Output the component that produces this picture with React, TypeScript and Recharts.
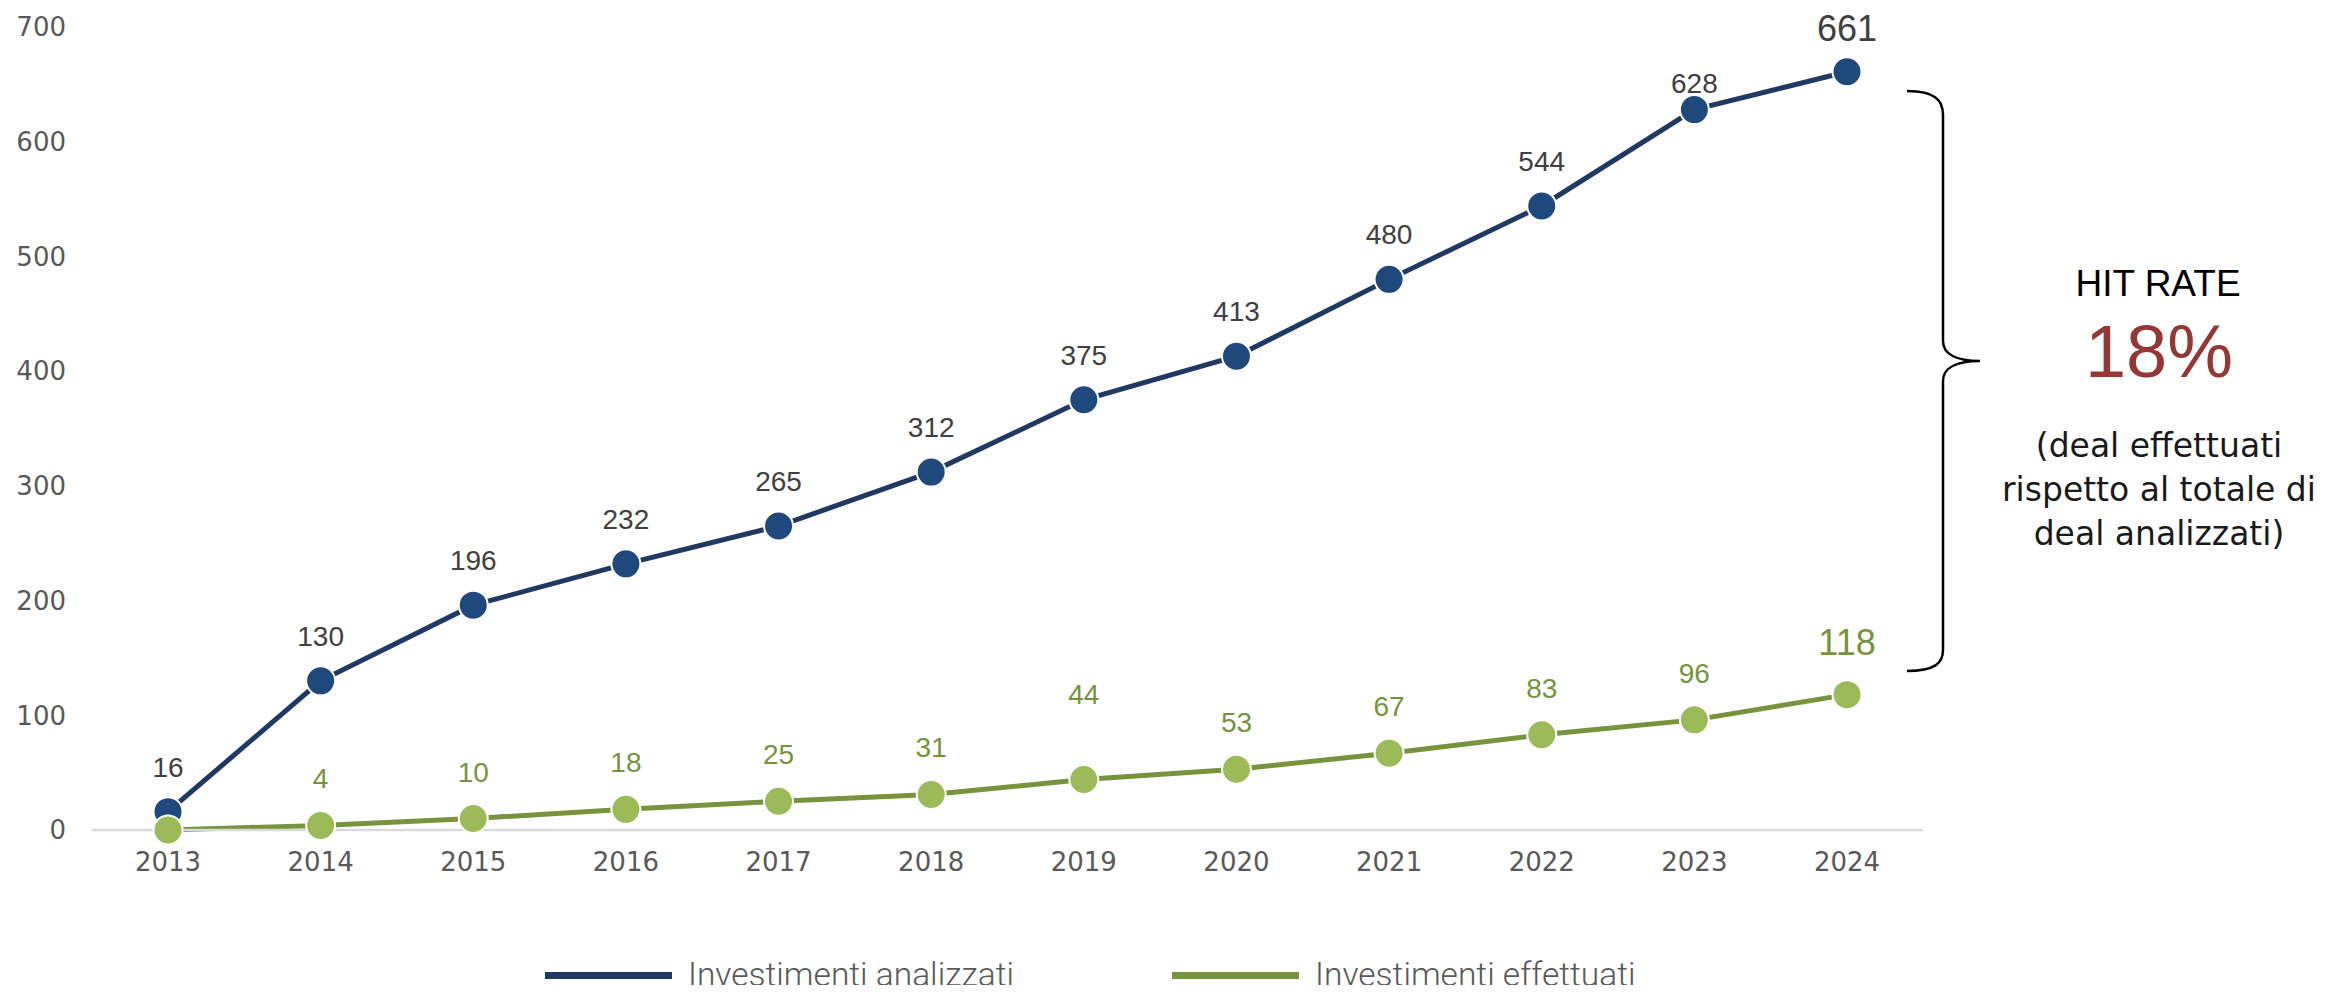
import React from "react";
import { LineChart, Line, XAxis, YAxis, Legend, LabelList } from "recharts";

const years = ["2013", "2014", "2015", "2016", "2017", "2018", "2019", "2020", "2021", "2022", "2023", "2024"];
const analizzati = [16, 130, 196, 232, 265, 312, 375, 413, 480, 544, 628, 661];
const effettuati = [0, 4, 10, 18, 25, 31, 44, 53, 67, 83, 96, 118];
const yTicks = [0, 100, 200, 300, 400, 500, 600, 700];

const data = years.map((y, i) => ({ year: y, analizzati: analizzati[i], effettuati: effettuati[i] }));

const W = 2310;
const H = 977;
const LAST = years.length - 1;

// label styling (distance of text baseline above the dot)
const darkLabelGap: Record<number, number> = { 10: 17, 11: 31 };
const greenLabelGap: Record<number, number> = { 6: 76, 11: 40 };

const makeLabel =
  (color: string, gapMap: Record<number, number>, defGap: number, size: number, lastSize: number) =>
  (props: any) => {
    const { x, y, value, index } = props;
    if (value === 0 || value == null) return null;
    const gap = gapMap[index] ?? defGap;
    return (
      <text
        x={x}
        y={y - gap}
        textAnchor="middle"
        fill={color}
        fontSize={index === LAST ? lastSize : size}
        fontFamily="'Liberation Sans', Arial, sans-serif"
      >
        {value}
      </text>
    );
  };

const renderLegend = (props: any) => {
  const { payload } = props;
  return (
    <div style={{ display: "flex", alignItems: "center" }}>
      {(payload || []).map((e: any, i: number) => (
        <div key={i} style={{ display: "flex", alignItems: "center", marginRight: i === 0 ? 158 : 0 }}>
          <span style={{ display: "inline-block", width: 127, height: 7, background: e.color, marginRight: 16 }} />
          <span
            style={{
              fontSize: 33.5,
              fontFamily: "Roboto, 'Liberation Sans', sans-serif",
              fontWeight: 300,
              color: "#595959",
              lineHeight: "38px",
            }}
          >
            {e.value}
          </span>
        </div>
      ))}
    </div>
  );
};

const tickStyle = { fill: "#595959", fontSize: 26, fontFamily: "'DejaVu Sans', sans-serif" };

export default function App() {
  return (
    <div style={{ position: "relative", width: W, height: H }}>
      <style>{"html,body{overflow:hidden}"}</style>
      <LineChart width={W} height={H} data={data} margin={{ top: 19, right: 395, bottom: 0, left: 0 }}>
        <XAxis
          dataKey="year"
          padding={{ left: 76, right: 76 }}
          axisLine={{ stroke: "#D9D9D9", strokeWidth: 2.5 }}
          tickLine={false}
          tickSize={0}
          tickMargin={23}
          tick={tickStyle}
          interval={0}
          height={155}
        />
        <YAxis
          domain={[0, 700]}
          ticks={yTicks}
          width={84}
          axisLine={false}
          tickLine={false}
          tickSize={0}
          tickMargin={26}
          tick={tickStyle}
          interval={0}
        />
        <Legend
          verticalAlign="middle"
          layout="horizontal"
          content={renderLegend}
          wrapperStyle={{ top: 948, left: 537, width: 1300, height: 38 }}
        />
        <Line
          type="linear"
          dataKey="analizzati"
          name="Investimenti analizzati"
          stroke="#1F3864"
          strokeWidth={5}
          dot={{ r: 14.5, fill: "#1F497D", stroke: "#FFFFFF", strokeWidth: 2 }}
          activeDot={false}
          isAnimationActive={false}
        >
          <LabelList dataKey="analizzati" content={makeLabel("#404040", darkLabelGap, 35, 28, 36)} />
        </Line>
        <Line
          type="linear"
          dataKey="effettuati"
          name="Investimenti effettuati"
          stroke="#77933C"
          strokeWidth={5}
          dot={{ r: 14.5, fill: "#9BBB59", stroke: "#FFFFFF", strokeWidth: 2 }}
          activeDot={false}
          isAnimationActive={false}
        >
          <LabelList dataKey="effettuati" content={makeLabel("#77933C", greenLabelGap, 37, 28, 36)} />
        </Line>
      </LineChart>
      <svg
        width={W}
        height={H}
        style={{ position: "absolute", top: 0, left: 0, pointerEvents: "none" }}
      >
        <path
          d="M 1899 83 C 1927 83, 1935 92, 1935 107 L 1935 333 C 1935 347, 1950 353, 1972 353 C 1950 353, 1935 359, 1935 373 L 1935 642 C 1935 655, 1927 663, 1899 663"
          fill="none"
          stroke="#000"
          strokeWidth={2.5}
        />
        <text x={2150} y={288} textAnchor="middle" fontSize={37} fill="#000" fontFamily="'Liberation Sans', Arial, sans-serif">
          HIT RATE
        </text>
        <text x={2151} y={369} textAnchor="middle" fontSize={74} fill="#953735" fontFamily="'Liberation Sans', Arial, sans-serif">
          18%
        </text>
        <text x={2151} y={449} textAnchor="middle" fontSize={33} fill="#1a1a1a" fontFamily="'DejaVu Sans', sans-serif">
          (deal effettuati
        </text>
        <text x={2151} y={493} textAnchor="middle" fontSize={33} fill="#1a1a1a" fontFamily="'DejaVu Sans', sans-serif">
          rispetto al totale di
        </text>
        <text x={2151} y={537} textAnchor="middle" fontSize={33} fill="#1a1a1a" fontFamily="'DejaVu Sans', sans-serif">
          deal analizzati)
        </text>
      </svg>
    </div>
  );
}
